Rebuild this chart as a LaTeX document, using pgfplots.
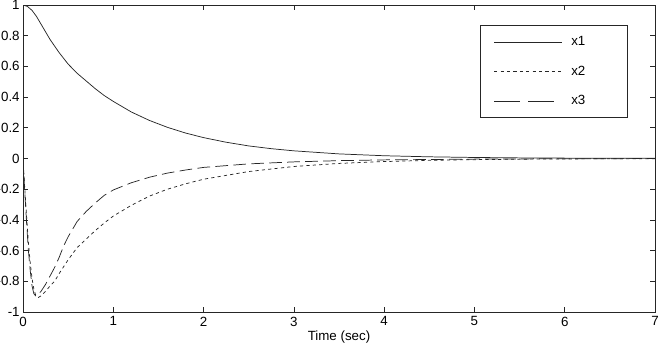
\documentclass[border=0pt]{standalone}
\usepackage{fontspec}
\setmainfont{Liberation Sans}
\usepackage{pgfplots}
\pgfplotsset{compat=1.18}

% state trajectories of the closed-loop system
\pgfplotstableread{
t     x1
0.00  1.000
0.05  0.990
0.10  0.965
0.15  0.925
0.20  0.875
0.25  0.825
0.30  0.775
0.40  0.690
0.50  0.615
0.60  0.555
0.70  0.505
0.80  0.455
0.90  0.410
1.00  0.372
1.20  0.303
1.40  0.248
1.60  0.203
1.80  0.166
2.00  0.136
2.25  0.106
2.50  0.082
2.75  0.064
3.00  0.050
3.50  0.030
4.00  0.018
4.50  0.011
5.00  0.0067
5.50  0.0040
6.00  0.0025
6.50  0.0015
7.00  0.0009
}\xone

\pgfplotstableread{
t     x2
0.00   0.000
0.02  -0.200
0.04  -0.380
0.06  -0.550
0.08  -0.680
0.10  -0.780
0.12  -0.850
0.14  -0.890
0.17  -0.905
0.20  -0.895
0.25  -0.865
0.30  -0.830
0.35  -0.800
0.40  -0.750
0.50  -0.660
0.60  -0.580
0.70  -0.525
0.80  -0.470
0.90  -0.420
1.00  -0.375
1.20  -0.305
1.40  -0.245
1.60  -0.200
1.80  -0.165
2.00  -0.135
2.50  -0.085
3.00  -0.052
3.50  -0.032
4.00  -0.020
4.50  -0.012
5.00  -0.0075
5.50  -0.0045
6.00  -0.0028
7.00  -0.0010
}\xtwo

\pgfplotstableread{
t     x3
0.00   0.000
0.02  -0.220
0.04  -0.420
0.06  -0.600
0.08  -0.730
0.10  -0.830
0.12  -0.880
0.14  -0.895
0.16  -0.890
0.20  -0.865
0.25  -0.820
0.30  -0.765
0.35  -0.710
0.40  -0.645
0.45  -0.570
0.50  -0.510
0.60  -0.410
0.70  -0.345
0.80  -0.290
0.90  -0.240
1.00  -0.205
1.20  -0.158
1.40  -0.122
1.60  -0.095
1.80  -0.075
2.00  -0.058
2.50  -0.035
3.00  -0.022
3.50  -0.014
4.00  -0.009
5.00  -0.004
6.00  -0.0015
7.00  -0.0005
}\xthree

% legend samples: a fixed-length line
\pgfplotsset{
  plain legend/.style={legend image code/.code={%
    \draw[##1] (0pt,0pt) -- (51pt,0pt);}},
  long dash legend/.style={legend image code/.code={%
    \draw[##1, dash pattern=on 19pt off 6.5pt] (0pt,0pt) -- (51pt,0pt);}},
}

\begin{document}
\begin{tikzpicture}
\begin{axis}[
  scale only axis,
  width=474pt, height=230.25pt,
  xmin=0, xmax=7, ymin=-1, ymax=1,
  xtick={0,1,2,3,4,5,6,7},
  ytick={-1,-0.8,-0.6,-0.4,-0.2,0,0.2,0.4,0.6,0.8,1},
  tick align=inside,
  major tick length=3.75pt,
  axis line style={black!85, line width=0.6pt},
  tick style={black!85, line width=0.5pt},
  /pgf/number format/assume math mode=true,
  tick label style={font=\fontsize{10}{12}\selectfont},
  yticklabel style={xshift=1pt},
  xlabel={Time (sec)},
  xlabel style={font=\fontsize{10}{12}\selectfont, yshift=3pt},
  legend style={at={(1,1)}, anchor=north east, xshift=-20.25pt, yshift=-15pt,
    draw=black!85, line width=0.6pt, fill=white,
    font=\fontsize{10}{12}\selectfont,
    inner xsep=9.75pt, inner ysep=8.5pt, row sep=13.5pt,
    nodes={inner sep=0pt},
    /tikz/every odd column/.append style={column sep=6.5pt}},
  legend cell align=left,
  plain legend,
  every axis plot/.append style={black!85, line width=0.55pt},
]
\addplot[solid] table[x=t, y=x1] {\xone};
\addlegendentry{\makebox[32.5pt][l]{x1}}
\addplot[dash pattern=on 2.4pt off 2.4pt] table[x=t, y=x2] {\xtwo};
\addlegendentry{\makebox[32.5pt][l]{x2}}
\addplot[dash pattern=on 9.5pt off 4pt, long dash legend] table[x=t, y=x3] {\xthree};
\addlegendentry{\makebox[32.5pt][l]{x3}}
\end{axis}
\pgfresetboundingbox
\path ([xshift=-17.25pt, yshift=-26.25pt]current axis.south west)
  rectangle ([xshift=3.75pt, yshift=3.75pt]current axis.north east);
\end{tikzpicture}
\end{document}
